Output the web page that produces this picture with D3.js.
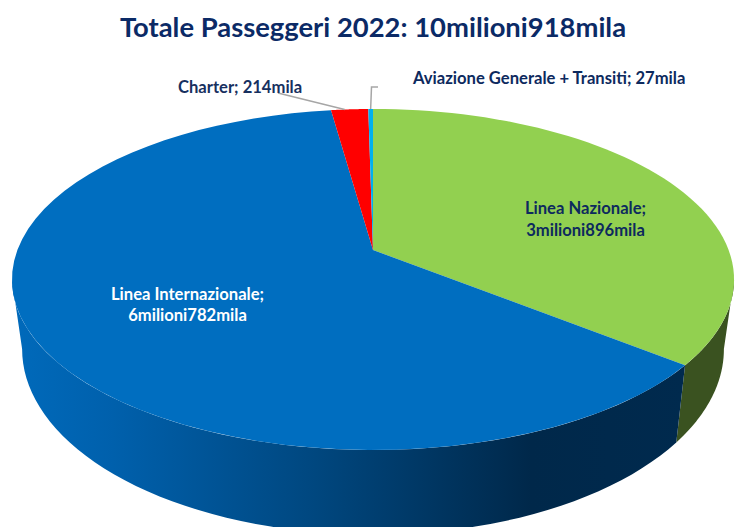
<!DOCTYPE html>
<html>
<head>
<meta charset="utf-8">
<script src="https://cdn.jsdelivr.net/npm/d3@7/dist/d3.min.js"></script>
<style>
  html, body { margin: 0; padding: 0; background: #fff; }
  svg { display: block; }
  text { font-family: Lato, "Open Sans", sans-serif; font-weight: 700; }
</style>
</head>
<body>
<svg id="chart" width="736" height="527"></svg>
<script>
const categories = ['Linea Nazionale', 'Linea Internazionale', 'Charter', 'Aviazione Generale + Transiti'];
const values = [3896, 6782, 214, 27];
const valueLabels = ['3milioni896mila', '6milioni782mila', '214mila', '27mila'];
const topColors = ['#92d050', '#006ec0', '#ff0000', '#00b0f0'];
const sideColors = ['#3a5220', '#00294d', '#800000', '#005878'];
const title = 'Totale Passeggeri 2022: 10milioni918mila';

const svg = d3.select('#chart');
const defs = svg.append('defs');

// perspective of the tilted disc: k is the foreshortening towards the viewer
const cs = {
  x: 373,
  k: 0.173,
  top: { y: 250, a: 355.6, b: 165.4 },
  bottom: { y: 317, a: 345.6, b: 180 },
};

const project = (angle, face) => {
  const u = Math.sin(angle);
  const v = -Math.cos(angle);
  const w = 1 - cs.k * v;
  return [cs.x + (face.a * u) / w, face.y + (face.b * v) / w];
};

const arcSteps = (start, end, face) => d3.range(0, 61)
  .map(i => project(start + ((end - start) * i) / 60, face));

const line = d3.line();
const slices = d3.pie().sort(null).value(d => d)(values);

// the rim is widest where v equals k, the wall starts there on both sides
const wallStart = Math.acos(-cs.k);
const wallEnd = (Math.PI * 2) - wallStart;

const grad = defs.append('linearGradient')
  .attr('id', 'sideBlue')
  .attr('gradientUnits', 'userSpaceOnUse')
  .attr('x1', 12).attr('x2', 686).attr('y1', 0).attr('y2', 0);
grad.append('stop').attr('offset', 0).attr('stop-color', '#006abb');
grad.append('stop').attr('offset', 0.15).attr('stop-color', '#0060ac');
grad.append('stop').attr('offset', 0.45).attr('stop-color', '#00477f');
grad.append('stop').attr('offset', 0.77).attr('stop-color', '#00284a');
grad.append('stop').attr('offset', 1).attr('stop-color', '#002a4e');

// side walls, only the front facing part of the rim
const front = slices.filter(s => s.startAngle < wallEnd);
svg.append('g').selectAll('path')
  .data(front)
  .join('path')
  .attr('d', (s) => {
    const end = Math.min(s.endAngle, wallEnd);
    const start = Math.max(s.startAngle, wallStart);
    const upper = arcSteps(start, end, cs.top);
    const lower = arcSteps(end, start, cs.bottom);
    return `${line(upper.concat(lower))}Z`;
  })
  .attr('fill', s => (s.index === 1 ? 'url(#sideBlue)' : sideColors[s.index]));

// top faces
svg.append('g').selectAll('path')
  .data(slices)
  .join('path')
  .attr('d', (s) => {
    const rim = arcSteps(s.startAngle, s.endAngle, cs.top);
    return `${line([[cs.x, cs.top.y]].concat(rim))}Z`;
  })
  .attr('fill', s => topColors[s.index]);

// leader lines of the two small slices
const leaders = svg.append('g').attr('fill', 'none').attr('stroke', '#a6a6a6').attr('stroke-width', 1.5);
leaders.append('path').datum(slices[2]).attr('d', (s) => {
  const p = project(s.startAngle + 1.1 * (s.endAngle - s.startAngle) / 3, cs.top);
  return line([[278, 93], p]);
});
leaders.append('path').datum(slices[3]).attr('d', (s) => {
  const p = project((s.startAngle + s.endAngle) / 2, cs.top);
  return line([p, [371.5, 87], [378, 87]]);
});

// data labels
const labels = [
  { i: 0, x: 585.5, y: [214, 236], fill: '#0d2a5e', anchor: 'middle' },
  { i: 1, x: 187.5, y: [300, 321], fill: '#ffffff', anchor: 'middle' },
  { i: 2, x: 178, y: [93], fill: '#17305f', anchor: 'start' },
  { i: 3, x: 413, y: [84], fill: '#0d2a5e', anchor: 'start' },
];
labels.forEach((l) => {
  const full = `${categories[l.i]}; ${valueLabels[l.i]}`;
  const lines = l.y.length > 1 ? [`${categories[l.i]};`, valueLabels[l.i]] : [full];
  svg.append('g').selectAll('text')
    .data(lines)
    .join('text')
    .attr('x', l.x)
    .attr('y', (d, j) => l.y[j])
    .attr('text-anchor', l.anchor)
    .attr('fill', l.fill)
    .attr('font-size', 16.6)
    .text(d => d);
});

svg.append('text')
  .attr('x', 373)
  .attr('y', 37)
  .attr('text-anchor', 'middle')
  .attr('fill', '#0b2a66')
  .attr('font-size', 27.4)
  .text(title);
</script>
</body>
</html>
